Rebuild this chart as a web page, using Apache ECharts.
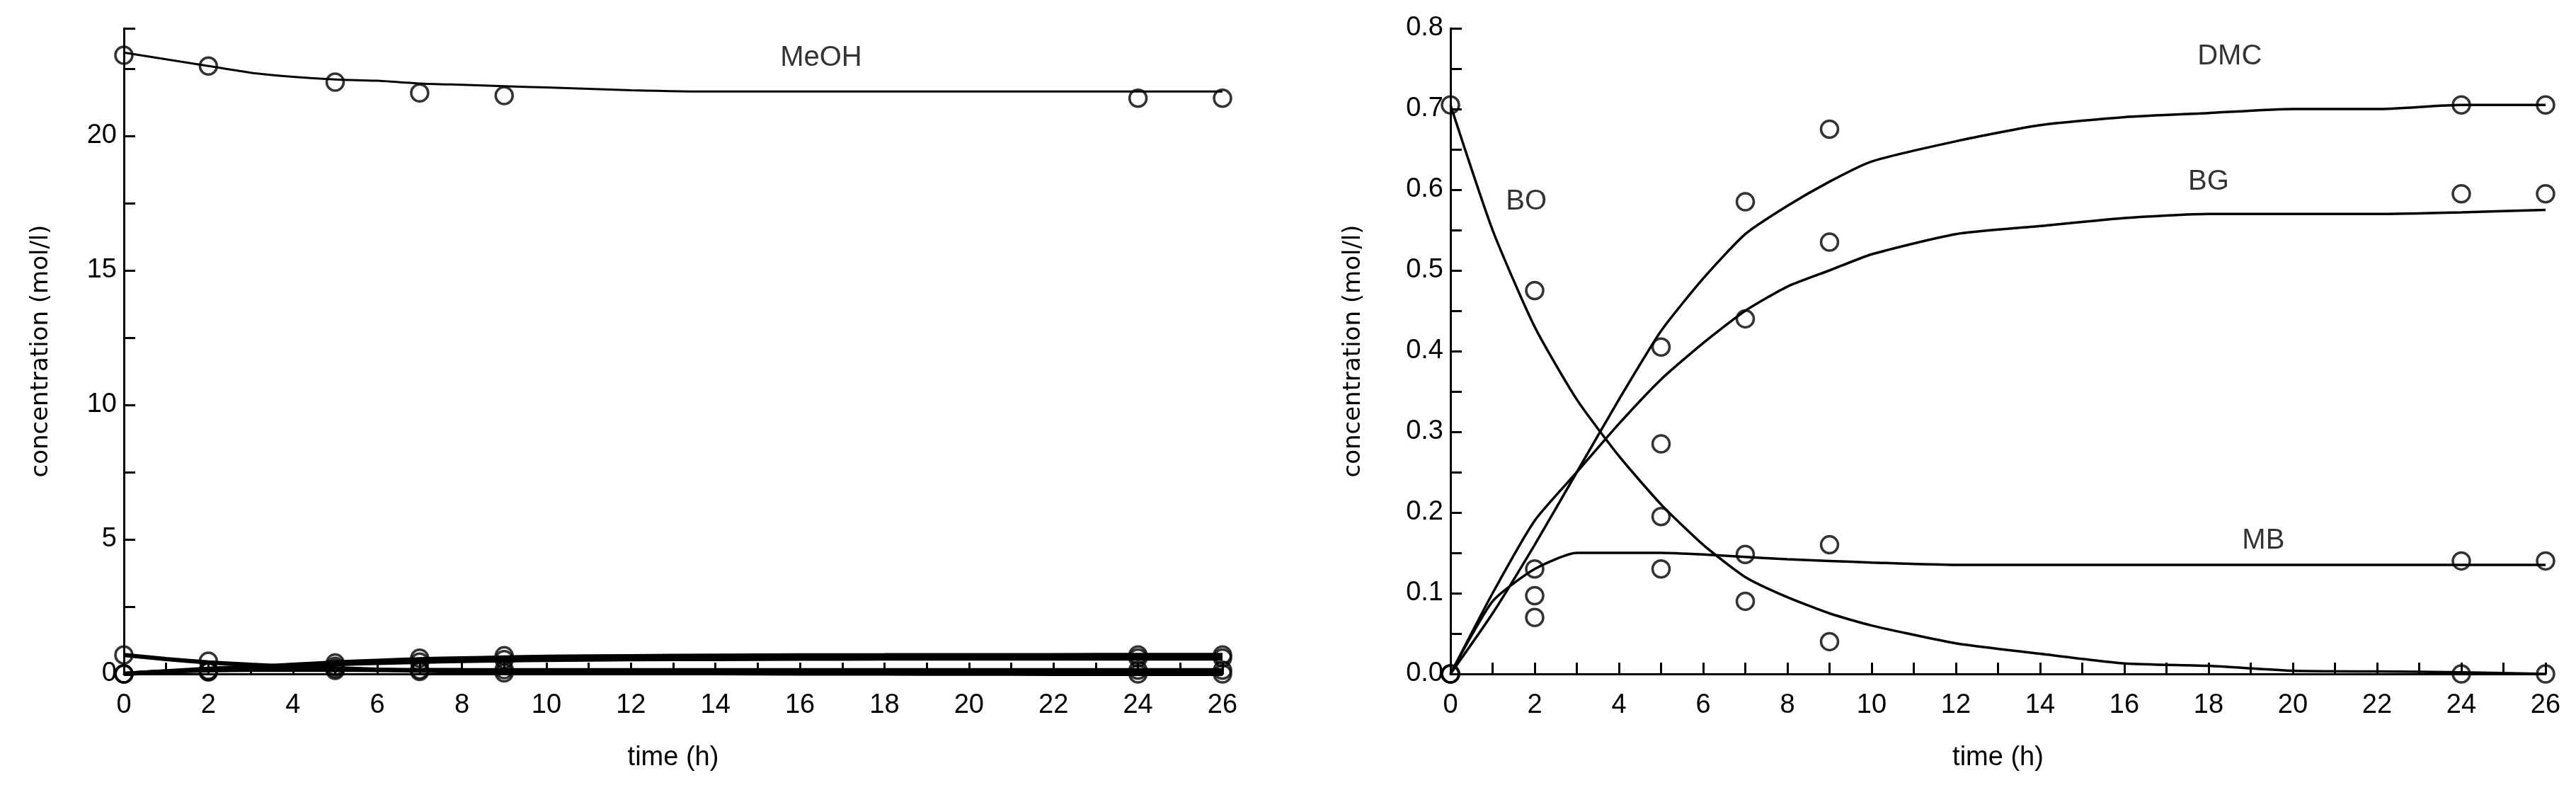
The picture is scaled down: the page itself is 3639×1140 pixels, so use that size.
<!DOCTYPE html>
<html><head><meta charset="utf-8">
<script src="https://cdn.jsdelivr.net/npm/echarts@6/dist/echarts.min.js"></script>
<style>html,body{margin:0;background:#fff}#c{width:3639px;height:1140px}</style>
</head><body><div id="c"></div>
<script>
const tExp = [0, 2, 5, 7, 9, 24, 26];
const meohExp = [23.0, 22.6, 22.0, 21.6, 21.5, 21.4, 21.4];
const boExp  = [0.705, 0.475, 0.195, 0.09, 0.04, 0.0, 0.0];
const dmcExp = [0.0, 0.13, 0.405, 0.585, 0.675, 0.705, 0.705];
const bgExp  = [0.0, 0.097, 0.285, 0.44, 0.535, 0.595, 0.595];
const mbExp  = [0.0, 0.07, 0.13, 0.148, 0.16, 0.14, 0.14];

const tMod = [0, 1, 2, 3, 4, 5, 6, 7, 8, 9, 10, 12, 14, 16, 18, 20, 22, 24, 26];
const meohMod = [23.1, 22.85, 22.6, 22.35, 22.2, 22.1, 22.05, 21.95, 21.9, 21.85, 21.8, 21.7, 21.65, 21.65, 21.65, 21.65, 21.65, 21.65, 21.65];
const boMod  = [0.705, 0.55, 0.43, 0.34, 0.27, 0.21, 0.16, 0.12, 0.095, 0.075, 0.06, 0.038, 0.025, 0.013, 0.01, 0.004, 0.003, 0.002, 0.0];
const dmcMod = [0.0, 0.075, 0.16, 0.25, 0.34, 0.425, 0.49, 0.545, 0.58, 0.61, 0.635, 0.66, 0.68, 0.69, 0.695, 0.70, 0.70, 0.705, 0.705];
const bgMod  = [0.0, 0.1, 0.19, 0.25, 0.31, 0.365, 0.41, 0.45, 0.48, 0.50, 0.52, 0.545, 0.555, 0.565, 0.57, 0.57, 0.57, 0.572, 0.575];
const mbMod  = [0.0, 0.09, 0.13, 0.15, 0.15, 0.15, 0.148, 0.145, 0.142, 0.14, 0.138, 0.135, 0.135, 0.135, 0.135, 0.135, 0.135, 0.135, 0.135];

const leftLabels = [{name: 'MeOH', t: 16.5, v: 22.9}];
const rightLabels = [{name: 'DMC', t: 18.5, v: 0.765}, {name: 'BG', t: 18, v: 0.61}, {name: 'MB', t: 19.3, v: 0.165}, {name: 'BO', t: 1.8, v: 0.585}];

const pairs = (xs, ys) => xs.map((x, i) => [x, ys[i]]);
const F = 'Liberation Sans, Arial, sans-serif';
const chart = echarts.init(document.getElementById('c'));

function xAxis(gi) {
  return {type: 'value', gridIndex: gi, min: 0, max: 26, interval: 1,
    name: 'time (h)', nameLocation: 'middle', nameGap: 100,
    nameTextStyle: {fontFamily: F, fontSize: 38, color: '#000'},
    axisLine: {lineStyle: {color: '#000', width: 3}},
    axisTick: {inside: true, length: 16, lineStyle: {color: '#000', width: 3}},
    axisLabel: {fontFamily: F, fontSize: 38, color: '#000', margin: 26,
      formatter: v => (v % 2 === 0 ? String(v) : '')},
    splitLine: {show: false}};
}
function yAxis(gi, max, interval, labelFn, gap) {
  return {type: 'value', gridIndex: gi, min: 0, max: max, interval: interval,
    name: 'concentration (mol/l)', nameLocation: 'middle', nameGap: gap,
    nameTextStyle: {fontFamily: 'DejaVu Sans, sans-serif', fontSize: 34, color: '#000'},
    axisLine: {show: true, lineStyle: {color: '#000', width: 3}},
    axisTick: {inside: true, length: 16, lineStyle: {color: '#000', width: 3}},
    axisLabel: {fontFamily: F, fontSize: 38, color: '#000', margin: 10, formatter: labelFn},
    splitLine: {show: false}};
}
function line(gi, xs, ys, w) {
  return {type: 'line', xAxisIndex: gi, yAxisIndex: gi, data: pairs(xs, ys), smooth: 0.2,
    showSymbol: false, lineStyle: {color: '#000', width: w}, silent: true, z: 2};
}
function pts(gi, ys) {
  return {type: 'scatter', xAxisIndex: gi, yAxisIndex: gi, data: pairs(tExp, ys),
    symbol: 'circle', symbolSize: 24, itemStyle: {color: 'rgba(255,255,255,0)', borderColor: '#000', borderWidth: 3.5}, z: 3};
}
function labels(gi, arr) {
  return {type: 'scatter', xAxisIndex: gi, yAxisIndex: gi, symbolSize: 1, itemStyle: {color: 'rgba(0,0,0,0)'},
    data: arr.map(l => ({value: [l.t, l.v], name: l.name})),
    label: {show: true, position: 'inside', formatter: p => p.name, fontFamily: F, fontSize: 40, color: '#000'}, z: 4};
}

chart.setOption({
  animation: false,
  grid: [{left: 175, right: 3639 - 1727, top: 40, bottom: 1140 - 952},
         {left: 2049, right: 3639 - 3596, top: 40, bottom: 1140 - 952}],
  xAxis: [xAxis(0), xAxis(1)],
  yAxis: [yAxis(0, 24, 2.5, v => (v % 5 === 0 ? String(v) : ''), 100),
          yAxis(1, 0.8, 0.05, v => (Math.abs(Math.round(v * 10) - v * 10) < 1e-6 ? v.toFixed(1) : ''), 120)],
  series: [
    line(0, tMod, meohMod, 3), line(0, tMod, boMod, 6), line(0, tMod, dmcMod, 6), line(0, tMod, bgMod, 6), line(0, tMod, mbMod, 6),
    pts(0, meohExp), pts(0, boExp), pts(0, dmcExp), pts(0, bgExp), pts(0, mbExp),
    labels(0, leftLabels),
    line(1, tMod, boMod, 3.5), line(1, tMod, dmcMod, 3.5), line(1, tMod, bgMod, 3.5), line(1, tMod, mbMod, 3.5),
    pts(1, boExp), pts(1, dmcExp), pts(1, bgExp), pts(1, mbExp),
    labels(1, rightLabels)
  ]
});
</script></body></html>
